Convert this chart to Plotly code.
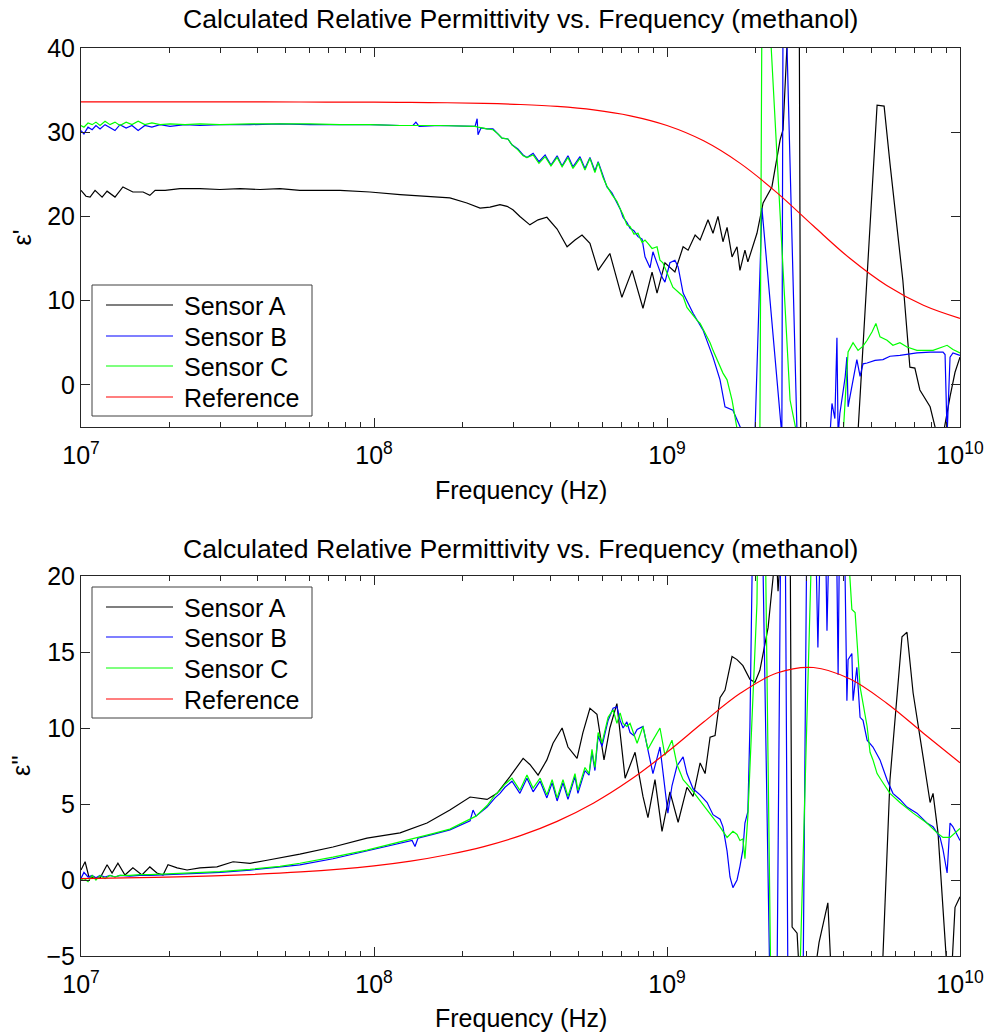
import numpy as np
import plotly.graph_objects as go

# ---------------------------------------------------------------------------
# Measured data: log10(frequency / Hz) and relative permittivity
# ---------------------------------------------------------------------------

# real part, eps'
a1_logf = [7.000, 7.017, 7.031, 7.048, 7.072, 7.089, 7.116, 7.143, 7.177, 7.212,
           7.235, 7.253, 7.287, 7.338, 7.406, 7.474, 7.543, 7.611, 7.679, 7.747,
           7.884, 7.986, 8.089, 8.191, 8.259, 8.317, 8.362, 8.396, 8.430, 8.454,
           8.474, 8.498, 8.532, 8.560, 8.590, 8.625, 8.659, 8.686, 8.710, 8.737,
           8.765, 8.805, 8.846, 8.881, 8.918, 8.949, 8.966, 8.993, 9.010, 9.027,
           9.055, 9.072, 9.096, 9.113, 9.140, 9.157, 9.174, 9.191, 9.205, 9.222,
           9.239, 9.249, 9.266, 9.276, 9.307, 9.328, 9.358, 9.386, 9.396, 9.410,
           9.420, 9.451, 9.457, 9.642, 9.652, 9.717, 9.741, 9.761, 9.805, 9.829,
           9.846, 9.863, 9.898, 9.922, 9.942, 9.966, 9.983, 10.000]
a1_eps = [23.1, 22.4, 22.3, 23.1, 22.3, 23.0, 22.3, 23.5, 22.9, 22.9,
          22.5, 23.1, 23.1, 23.3, 23.3, 23.2, 23.3, 23.2, 23.3, 23.1,
          23.1, 22.9, 22.6, 22.4, 22.2, 21.6, 21.0, 21.1, 21.4, 21.2,
          20.8, 20.0, 19.0, 19.6, 19.9, 18.5, 16.4, 17.2, 17.8, 16.8,
          13.6, 15.6, 10.4, 13.6, 9.1, 13.4, 10.9, 14.5, 13.9, 13.4,
          16.4, 16.0, 17.8, 17.2, 19.6, 18.0, 20.0, 17.0, 18.7, 15.2,
          16.4, 13.6, 16.0, 14.6, 18.0, 21.6, 23.5, 29.1, 30.3, 40.5,
          48.0, 48.0, -12.0, -12.0, -5.5, 33.2, 33.1, 26.3, 12.4, 2.1,
          2.0, -0.6, -2.6, -6.0, -6.0, -1.4, 1.5, 3.3]

b1_logf = [7.000, 7.010, 7.024, 7.038, 7.051, 7.065, 7.082, 7.099, 7.116, 7.133,
           7.154, 7.174, 7.195, 7.218, 7.242, 7.270, 7.304, 7.355, 7.406, 7.474,
           7.577, 7.679, 7.782, 7.884, 7.986, 8.089, 8.133, 8.143, 8.154, 8.225,
           8.345, 8.352, 8.355, 8.365, 8.386, 8.406, 8.423, 8.437, 8.457, 8.471,
           8.491, 8.509, 8.522, 8.543, 8.563, 8.584, 8.604, 8.625, 8.642, 8.662,
           8.679, 8.703, 8.720, 8.737, 8.754, 8.765, 8.782, 8.795, 8.812, 8.829,
           8.840, 8.850, 8.863, 8.874, 8.887, 8.901, 8.915, 8.925, 8.942, 8.952,
           8.966, 8.983, 8.993, 9.010, 9.027, 9.038, 9.055, 9.089, 9.123, 9.157,
           9.181, 9.198, 9.225, 9.256, 9.283, 9.300, 9.324, 9.392, 9.396, 9.406,
           9.444, 9.454, 9.549, 9.556, 9.563, 9.573, 9.580, 9.584, 9.590, 9.608,
           9.614, 9.618, 9.635, 9.648, 9.659, 9.669, 9.683, 9.710, 9.737, 9.761,
           9.795, 9.829, 9.853, 9.898, 9.942, 9.949, 9.956, 9.966, 9.976, 10.000]
b1_eps = [30.2, 29.8, 30.6, 30.3, 30.8, 30.4, 30.9, 30.5, 30.2, 30.9,
          30.5, 30.8, 30.2, 30.8, 30.6, 30.9, 30.7, 30.9, 30.8, 30.9,
          30.9, 31.0, 30.9, 30.9, 30.9, 30.8, 30.8, 31.2, 30.7, 30.8,
          30.7, 31.6, 29.7, 30.5, 30.4, 30.4, 29.8, 29.3, 29.2, 28.5,
          28.0, 27.3, 27.0, 27.5, 26.5, 27.3, 26.1, 27.2, 26.0, 27.2,
          25.9, 27.1, 25.7, 27.0, 25.4, 26.5, 24.8, 23.5, 22.8, 21.6,
          20.9, 19.9, 19.3, 18.6, 18.3, 17.6, 17.3, 15.2, 13.9, 15.8,
          14.5, 12.8, 12.2, 14.5, 14.8, 14.0, 10.9, 8.5, 6.5, 3.3,
          0.6, -2.6, -3.0, -5.5, -10.0, -6.0, 21.0, -6.0, 45.0, 45.0,
          -6.0, -10.0, -10.0, -6.0, -2.2, -4.0, 5.6, -6.0, -3.4, 0.9,
          3.3, -2.6, 0.5, 3.0, 1.0, 2.5, 2.6, 2.9, 3.0, 3.4,
          3.5, 3.7, 3.8, 3.9, 3.9, 3.6, -6.0, 3.3, 3.8, 3.5]

c1_logf = [7.000, 7.010, 7.024, 7.038, 7.051, 7.065, 7.082, 7.099, 7.116, 7.133,
           7.154, 7.174, 7.195, 7.218, 7.242, 7.270, 7.304, 7.355, 7.406, 7.474,
           7.577, 7.679, 7.782, 7.884, 7.986, 8.089, 8.225, 8.345, 8.355, 8.386,
           8.406, 8.423, 8.437, 8.457, 8.471, 8.491, 8.509, 8.522, 8.543, 8.563,
           8.584, 8.604, 8.625, 8.642, 8.662, 8.679, 8.703, 8.720, 8.737, 8.754,
           8.765, 8.782, 8.795, 8.812, 8.829, 8.840, 8.850, 8.863, 8.874, 8.887,
           8.901, 8.915, 8.925, 8.935, 8.949, 8.966, 8.976, 8.986, 9.000, 9.020,
           9.055, 9.068, 9.102, 9.113, 9.147, 9.157, 9.191, 9.205, 9.222, 9.239,
           9.256, 9.311, 9.317, 9.324, 9.348, 9.420, 9.444, 9.454, 9.590, 9.601,
           9.618, 9.635, 9.652, 9.669, 9.683, 9.700, 9.713, 9.727, 9.751, 9.771,
           9.795, 9.819, 9.853, 9.908, 9.956, 9.976, 10.000]
c1_eps = [30.8, 30.6, 31.1, 30.9, 31.2, 30.8, 31.3, 30.9, 31.2, 30.8,
          31.2, 30.9, 31.3, 30.9, 31.1, 30.9, 31.0, 30.9, 31.0, 30.9,
          31.0, 31.0, 31.0, 30.9, 30.9, 30.8, 30.8, 30.7, 30.6, 30.4,
          30.3, 29.8, 29.3, 29.2, 28.5, 27.9, 27.2, 27.0, 27.3, 26.3,
          27.1, 26.0, 27.0, 25.9, 27.0, 25.7, 26.9, 25.5, 26.9, 25.2,
          26.4, 24.6, 23.6, 22.6, 21.8, 20.9, 20.2, 19.0, 18.8, 17.9,
          18.0, 16.9, 17.2, 16.8, 16.2, 16.4, 14.8, 14.5, 13.3, 11.6,
          10.5, 9.2, 7.7, 7.3, 5.0, 4.1, 1.4, 0.6, -1.8, -5.2,
          -10.0, -10.0, -6.0, 45.0, 45.0, -1.8, -6.0, -10.0, -10.0, -6.0,
          3.9, 5.0, 4.1, 4.6, 5.3, 6.3, 7.3, 5.7, 5.3, 4.7,
          5.0, 4.5, 4.1, 4.1, 4.7, 4.2, 3.8]

# imaginary part, eps''
a2_logf = [7.000, 7.014, 7.027, 7.065, 7.089, 7.106, 7.126, 7.150, 7.177, 7.208,
           7.235, 7.259, 7.280, 7.297, 7.328, 7.362, 7.406, 7.464, 7.519, 7.577,
           7.635, 7.689, 7.747, 7.860, 7.976, 8.089, 8.181, 8.259, 8.328, 8.386,
           8.420, 8.464, 8.509, 8.532, 8.560, 8.590, 8.611, 8.642, 8.662, 8.693,
           8.713, 8.737, 8.761, 8.785, 8.805, 8.829, 8.857, 8.891, 8.918, 8.935,
           8.959, 8.983, 9.010, 9.038, 9.068, 9.089, 9.113, 9.130, 9.147, 9.164,
           9.181, 9.198, 9.222, 9.239, 9.259, 9.283, 9.300, 9.317, 9.345, 9.362,
           9.372, 9.379, 9.389, 9.420, 9.427, 9.444, 9.451, 9.505, 9.519, 9.549,
           9.560, 9.727, 9.737, 9.761, 9.802, 9.819, 9.840, 9.874, 9.898, 9.908,
           9.925, 9.956, 9.973, 9.983, 10.000]
a2_eps = [0.66, 1.2, 0.2, 0.13, 1.0, 0.46, 1.1, 0.33, 0.8, 0.33,
          0.86, 0.46, 0.33, 1.0, 0.8, 0.66, 0.8, 0.86, 1.2, 1.1,
          1.3, 1.5, 1.7, 2.17, 2.76, 3.1, 3.75, 4.6, 5.46, 5.3,
          5.7, 6.8, 8.0, 7.6, 6.9, 7.9, 9.0, 10.0, 8.75, 8.0,
          9.7, 11.3, 10.9, 7.9, 10.0, 11.6, 6.7, 8.4, 5.5, 4.1,
          6.6, 3.2, 5.8, 3.8, 6.1, 5.5, 7.7, 7.0, 9.4, 9.5,
          12.0, 12.5, 14.7, 14.5, 14.1, 13.2, 13.0, 13.8, 16.6, 19.9,
          22.0, 19.0, 22.0, 24.0, -3.1, -3.5, -6.0, -6.0, -4.1, -1.5,
          -6.0, -6.0, -5.0, 6.6, 16.0, 16.3, 12.3, 8.1, 5.1, 5.7,
          3.1, -6.0, -5.5, -1.8, -1.1]

b2_logf = [7.000, 7.010, 7.024, 7.038, 7.051, 7.065, 7.082, 7.099, 7.116, 7.133,
           7.167, 7.201, 7.235, 7.287, 7.338, 7.406, 7.474, 7.577, 7.679, 7.747,
           7.860, 7.976, 8.089, 8.130, 8.140, 8.150, 8.201, 8.259, 8.328, 8.338,
           8.348, 8.386, 8.413, 8.430, 8.447, 8.471, 8.498, 8.522, 8.543, 8.567,
           8.590, 8.608, 8.625, 8.645, 8.662, 8.686, 8.696, 8.720, 8.734, 8.744,
           8.754, 8.765, 8.778, 8.799, 8.816, 8.829, 8.840, 8.850, 8.863, 8.874,
           8.887, 8.898, 8.918, 8.935, 8.952, 8.976, 8.993, 9.003, 9.017, 9.034,
           9.055, 9.068, 9.089, 9.113, 9.137, 9.157, 9.181, 9.191, 9.205, 9.215,
           9.225, 9.239, 9.249, 9.259, 9.266, 9.276, 9.283, 9.294, 9.324, 9.352,
           9.375, 9.389, 9.403, 9.413, 9.464, 9.471, 9.478, 9.505, 9.515, 9.526,
           9.539, 9.546, 9.556, 9.577, 9.584, 9.590, 9.604, 9.614, 9.618, 9.631,
           9.635, 9.648, 9.659, 9.669, 9.683, 9.703, 9.727, 9.751, 9.771, 9.795,
           9.819, 9.853, 9.887, 9.908, 9.932, 9.942, 9.956, 9.966, 9.976, 10.000]
b2_eps = [0.1, 0.5, 0.2, 0.3, 0.15, 0.3, 0.2, 0.3, 0.2, 0.3,
          0.25, 0.3, 0.3, 0.35, 0.4, 0.45, 0.5, 0.65, 0.85, 1.0,
          1.4, 1.9, 2.4, 2.6, 2.2, 2.75, 3.0, 3.3, 3.9, 4.6,
          4.2, 4.8, 5.4, 5.7, 6.1, 6.5, 5.7, 6.7, 5.8, 6.5,
          5.4, 6.4, 5.2, 6.4, 5.3, 6.8, 5.7, 7.2, 6.9, 8.4,
          7.2, 9.5, 8.8, 10.5, 11.3, 11.4, 10.5, 10.0, 10.4, 9.7,
          9.5, 9.9, 10.1, 8.5, 7.0, 8.75, 6.0, 4.4, 6.2, 7.5,
          8.1, 7.0, 6.0, 5.6, 5.1, 4.3, 4.0, 3.5, 1.9, 0.2,
          -0.5, 0.0, 0.9, 2.0, 3.75, 4.5, 10.1, 25.0, 25.0, -8.0,
          -8.0, 25.0, 25.0, -8.0, -8.0, 8.0, 25.0, 25.0, 15.3, 25.0,
          25.0, 16.4, 25.0, 25.0, 13.5, 25.0, 25.0, 11.8, 14.5, 14.9,
          11.8, 14.0, 10.7, 10.5, 9.2, 8.75, 7.9, 6.6, 5.7, 5.3,
          4.8, 4.4, 3.75, 3.5, 2.8, 2.0, 0.46, 3.75, 3.5, 2.6]

c2_logf = [7.000, 7.010, 7.024, 7.038, 7.051, 7.065, 7.082, 7.099, 7.116, 7.133,
           7.167, 7.201, 7.235, 7.287, 7.338, 7.406, 7.474, 7.577, 7.679, 7.747,
           7.860, 7.976, 8.089, 8.201, 8.259, 8.328, 8.348, 8.386, 8.413, 8.430,
           8.447, 8.471, 8.498, 8.522, 8.543, 8.567, 8.590, 8.608, 8.625, 8.645,
           8.662, 8.686, 8.696, 8.720, 8.734, 8.744, 8.754, 8.765, 8.778, 8.799,
           8.816, 8.829, 8.840, 8.850, 8.863, 8.874, 8.887, 8.898, 8.918, 8.935,
           8.952, 8.976, 8.993, 9.003, 9.017, 9.034, 9.055, 9.078, 9.113, 9.147,
           9.181, 9.205, 9.225, 9.239, 9.249, 9.259, 9.266, 9.276, 9.283, 9.294,
           9.307, 9.311, 9.334, 9.355, 9.444, 9.454, 9.498, 9.608, 9.631, 9.642,
           9.659, 9.683, 9.693, 9.703, 9.717, 9.737, 9.761, 9.795, 9.840, 9.887,
           9.922, 9.942, 9.966, 10.000]
c2_eps = [0.0, 0.1, -0.1, 0.3, 0.0, 0.3, 0.1, 0.3, 0.2, 0.3,
          0.3, 0.35, 0.35, 0.4, 0.45, 0.5, 0.55, 0.7, 0.9, 1.1,
          1.5, 1.97, 2.5, 3.05, 3.35, 4.0, 4.2, 4.9, 5.6, 5.9,
          6.3, 6.7, 5.9, 6.9, 6.05, 6.7, 5.6, 6.6, 5.4, 6.6,
          5.5, 7.0, 5.9, 7.4, 7.0, 8.6, 7.4, 9.7, 9.0, 10.7,
          11.2, 10.3, 11.0, 10.3, 10.1, 10.3, 9.6, 9.0, 10.1, 8.6,
          9.2, 10.0, 8.2, 8.6, 9.2, 7.6, 6.6, 6.1, 5.2, 4.3,
          3.5, 2.8, 3.2, 3.0, 2.6, 2.7, 1.4, 4.2, 7.2, 12.3,
          18.2, 25.0, 25.0, -8.0, -8.0, -6.0, 25.0, 25.0, 17.8, 17.6,
          12.7, 10.1, 8.4, 7.9, 7.0, 6.4, 5.7, 5.1, 4.4, 3.75,
          3.1, 2.8, 2.8, 3.4]

# reference values for methanol
ref_logf = [7.0, 7.25, 7.5, 7.75, 8.0, 8.125, 8.25, 8.375, 8.5, 8.625, 8.75,
            8.875, 9.0, 9.125, 9.25, 9.375, 9.5, 9.625, 9.75, 9.875, 10.0]
ref_eps1 = [33.6, 33.6, 33.6, 33.59, 33.57, 33.54, 33.5, 33.43, 33.29, 33.06, 32.65,
            31.95, 30.8, 28.98, 26.3, 22.83, 18.86, 15.0, 11.8, 9.46, 7.9]
ref_eps2 = [0.09, 0.17, 0.3, 0.53, 0.93, 1.24, 1.66, 2.2, 2.92, 3.86, 5.07,
            6.59, 8.4, 10.39, 12.28, 13.62, 13.98, 13.22, 11.63, 9.66, 7.71]

series_names = ["Sensor A", "Sensor B", "Sensor C", "Reference"]
series_colors = ["#000000", "#0000ff", "#00ff00", "#ff0000"]

x_tick_vals = [1e7, 1e8, 1e9, 1e10]
x_tick_text = ["10<sup>7</sup>", "10<sup>8</sup>", "10<sup>9</sup>", "10<sup>10</sup>"]
y1_ticks = [0, 10, 20, 30, 40]
y2_ticks = [-5, 0, 5, 10, 15, 20]

title_text = "Calculated Relative Permittivity vs. Frequency (methanol)"
x_label = "Frequency (Hz)"

# ---------------------------------------------------------------------------
# Figure geometry
# ---------------------------------------------------------------------------
W, H = 988, 1032
ML, MR, MT, MB = 81, 28, 48, 76


def fx(x):
    """pixel column -> paper x"""
    return (x - ML) / (W - ML - MR)


def fy(y):
    """pixel row -> paper y"""
    return (H - MB - y) / (H - MT - MB)


def hz(logf):
    return (10.0 ** np.asarray(logf)).tolist()


FONT = "Liberation Sans, Arial, Helvetica, sans-serif"
AX_COLOR = "#262626"
LW = 1.2
FS = 25

fig = go.Figure()

top = [(a1_logf, a1_eps), (b1_logf, b1_eps), (c1_logf, c1_eps), (ref_logf, ref_eps1)]
bottom = [(a2_logf, a2_eps), (b2_logf, b2_eps), (c2_logf, c2_eps), (ref_logf, ref_eps2)]

for axes, group in (("1", top), ("2", bottom)):
    for i, (lf, vals) in enumerate(group):
        fig.add_trace(go.Scatter(
            x=hz(lf), y=vals, mode="lines", name=series_names[i],
            line=dict(color=series_colors[i], width=LW,
                      shape="spline" if i == 3 else "linear"),
            xaxis="x" if axes == "1" else "x2",
            yaxis="y" if axes == "1" else "y2",
            showlegend=False, hoverinfo="skip"))

minor_vals = [m * 10.0 ** e for e in (7, 8, 9) for m in range(2, 10)]

common = dict(showline=True, linecolor=AX_COLOR, linewidth=1, mirror="allticks",
              ticks="inside", ticklen=9, tickwidth=1, tickcolor=AX_COLOR,
              showgrid=False, zeroline=False, automargin=False,
              tickfont=dict(family=FONT, size=FS, color="#000000"))

xcommon = dict(type="log", range=[7, 10], tickmode="array", tickvals=x_tick_vals,
               ticktext=x_tick_text, domain=[0, 1], ticklabelstandoff=6,
               minor=dict(tickmode="array", tickvals=minor_vals, ticks="inside",
                          ticklen=5, tickcolor=AX_COLOR, showgrid=False),
               **common)

top_dom = [fy(427), fy(48)]
bot_dom = [fy(956), fy(576)]

fig.update_layout(
    width=W, height=H, autosize=False,
    margin=dict(l=ML, r=MR, t=MT, b=MB, pad=0, autoexpand=False),
    paper_bgcolor="white", plot_bgcolor="white",
    font=dict(family=FONT, size=FS, color="#000000"),
    showlegend=False,
    xaxis=dict(anchor="y", **xcommon),
    yaxis=dict(anchor="x", domain=top_dom, range=[-5, 40], tickmode="array",
               tickvals=y1_ticks, **common),
    xaxis2=dict(anchor="y2", **xcommon),
    yaxis2=dict(anchor="x2", domain=bot_dom, range=[-5, 20], tickmode="array",
                tickvals=y2_ticks, **common),
)

annotations = []
shapes = []

# titles and axis labels
for y_title, y_xlab, y_mid, ylab in ((19, 490, 237.5, "ε'"), (549, 1018, 766, "ε''")):
    annotations.append(dict(text=title_text, x=fx(520.5), y=fy(y_title), xref="paper",
                            yref="paper", showarrow=False, xanchor="center",
                            yanchor="middle", font=dict(family=FONT, size=26.6)))
    annotations.append(dict(text=x_label, x=fx(520.5), y=fy(y_xlab), xref="paper",
                            yref="paper", showarrow=False, xanchor="center",
                            yanchor="middle", font=dict(family=FONT, size=FS)))
    annotations.append(dict(text=ylab, x=fx(21), y=fy(y_mid), xref="paper",
                            yref="paper", showarrow=False, xanchor="center",
                            yanchor="middle", textangle=-90,
                            font=dict(family=FONT, size=FS)))

# legend boxes
for box_top, box_bot, rows in ((285, 416, (305, 336, 366, 397)),
                               (587, 718, (607, 637, 668, 699))):
    shapes.append(dict(type="rect", xref="paper", yref="paper",
                       x0=fx(92), x1=fx(312), y0=fy(box_bot), y1=fy(box_top),
                       line=dict(color="#404040", width=1), fillcolor="white",
                       layer="above"))
    for i, ry in enumerate(rows):
        shapes.append(dict(type="line", xref="paper", yref="paper",
                           x0=fx(106), x1=fx(173), y0=fy(ry), y1=fy(ry),
                           line=dict(color=series_colors[i], width=LW), layer="above"))
        annotations.append(dict(text=series_names[i], x=fx(182), y=fy(ry + 1),
                                xref="paper", yref="paper", showarrow=False,
                                xanchor="left", yanchor="middle",
                                font=dict(family=FONT, size=FS)))

fig.update_layout(annotations=annotations, shapes=shapes)

fig.write_html("out.html")
